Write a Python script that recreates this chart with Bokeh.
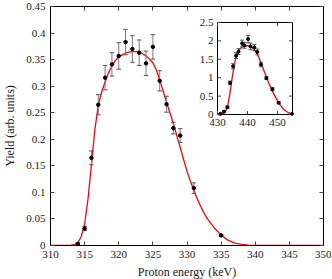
from bokeh.plotting import figure
from bokeh.models import Range1d, LinearAxis, FixedTicker
from bokeh.embed import file_html
from bokeh.resources import INLINE
from bokeh.core.properties import value

# ---------------- data ----------------
x_ticks = [310, 315, 320, 325, 330, 335, 340, 345, 350]
x_tick_labels = ["310", "315", "320", "325", "330", "335", "340", "345", "350"]
y_ticks = [0, 0.05, 0.1, 0.15, 0.2, 0.25, 0.3, 0.35, 0.4, 0.45]
y_tick_labels = ["0", "0.05", "0.1", "0.15", "0.2", "0.25", "0.3", "0.35", "0.4", "0.45"]

energy = [314, 315, 316, 317, 318, 319, 320, 321, 322, 323, 324, 325, 326, 327, 328, 329, 331, 335]
yield_pts = [0.003, 0.032, 0.165, 0.265, 0.316, 0.341, 0.357, 0.383, 0.370, 0.363, 0.343, 0.374,
             0.310, 0.266, 0.221, 0.207, 0.108, 0.019]
yield_err = [0.002, 0.004, 0.013, 0.019, 0.023, 0.022, 0.025, 0.024, 0.025, 0.024, 0.023, 0.023,
             0.019, 0.015, 0.011, 0.013, 0.010, 0.002]

fit_energy = [310, 312, 313, 313.5, 314, 314.5, 315, 315.5, 316, 316.5, 317, 317.5, 318, 318.5,
              319, 319.5, 320, 320.5, 321, 321.5, 322, 322.5, 323, 323.5, 324, 324.5, 325, 325.5,
              326, 326.5, 327, 327.5, 328, 328.5, 329, 329.5, 330, 330.5, 331, 331.5, 332, 332.5,
              333, 334, 335, 336, 337, 338, 339, 340, 342, 350]
fit_yield = [0, 0, 0.0005, 0.0015, 0.005, 0.017, 0.040, 0.088, 0.152, 0.218, 0.264, 0.289, 0.308,
             0.325, 0.338, 0.348, 0.355, 0.359, 0.362, 0.364, 0.365, 0.365, 0.364, 0.361, 0.357,
             0.351, 0.344, 0.331, 0.312, 0.291, 0.270, 0.250, 0.230, 0.207, 0.185, 0.162, 0.140,
             0.121, 0.104, 0.088, 0.074, 0.061, 0.050, 0.033, 0.020, 0.010, 0.0045, 0.002, 0.0007,
             0.0002, 0, 0]

inset_x_limits = [430, 455]
inset_y_limits = [0, 2.5]
inset_x_ticks = [430, 440, 450]
inset_x_tick_labels = ["430", "440", "450"]
inset_y_ticks = [0, 0.5, 1, 1.5, 2, 2.5]
inset_y_tick_labels = ["0", "0.5", "1", "1.5", "2", "2.5"]

inset_energy = [431.0, 432.2, 433.3, 434.2, 435.2, 436.2, 437.0, 438.2, 439.0, 440.2, 441.0,
                442.3, 443.3, 444.5, 446.3, 448.3, 450.4, 454.8]
inset_yield = [0.02, 0.08, 0.20, 0.86, 1.31, 1.60, 1.71, 1.93, 1.88, 2.05, 1.85, 1.82, 1.70,
               1.36, 0.99, 0.69, 0.32, 0.02]
inset_err = [0.01, 0.02, 0.03, 0.05, 0.07, 0.08, 0.08, 0.09, 0.08, 0.10, 0.09, 0.08, 0.08,
             0.06, 0.04, 0.04, 0.03, 0.01]

inset_fit_energy = [430, 431, 431.5, 432, 432.5, 433, 433.5, 434, 434.5, 435, 435.5, 436, 436.5,
                    437, 437.5, 438, 439, 440, 441, 442, 443, 444, 445, 446, 447, 448, 449, 450,
                    451, 452, 453, 454, 455]
inset_fit_yield = [0, 0, 0.01, 0.03, 0.07, 0.14, 0.28, 0.50, 0.78, 1.06, 1.31, 1.50, 1.63, 1.72,
                   1.78, 1.82, 1.86, 1.87, 1.85, 1.79, 1.68, 1.51, 1.30, 1.08, 0.87, 0.69, 0.52,
                   0.37, 0.25, 0.15, 0.08, 0.03, 0.01]

# ---------------- layout / style ----------------
FONT = "Liberation Serif, serif"
FS = "11px"
FS_LABEL = "12px"
FW, FH = 273, 239
INSET_L, INSET_R, INSET_T, INSET_B = 167, 242, 16, 108   # pixels inside the frame
TICK_PX = 3.5
RED = "#ff0000"
BAR = "#7a7a7a"
TXT = "#1a1a1a"

p = figure(frame_width=FW, frame_height=FH, x_range=Range1d(310, 350), y_range=Range1d(0, 0.45),
           output_backend="svg", toolbar_location=None,
           min_border_left=50, min_border_right=8, min_border_top=6, min_border_bottom=33)
p.outline_line_color = "black"
p.xgrid.grid_line_color = None
p.ygrid.grid_line_color = None
p.background_fill_color = "white"
p.border_fill_color = "white"

p.xaxis.ticker = FixedTicker(ticks=x_ticks)
p.xaxis.major_label_overrides = dict(zip(x_ticks, x_tick_labels))
p.yaxis.ticker = FixedTicker(ticks=y_ticks)
p.yaxis.major_label_overrides = dict(zip(y_ticks, y_tick_labels))
p.xaxis.axis_label = "Proton energy (keV)"
p.yaxis.axis_label = "Yield (arb. units)"

for ax in [p.xaxis[0], p.yaxis[0]]:
    ax.major_tick_in = 4
    ax.major_tick_out = 0
    ax.minor_tick_line_color = None
    ax.axis_line_color = "black"
    ax.major_tick_line_color = "#444444"
    ax.major_label_text_font = FONT
    ax.major_label_text_font_size = FS
    ax.major_label_text_color = TXT
    ax.major_label_standoff = 5
    ax.axis_label_text_font = FONT
    ax.axis_label_text_font_size = FS_LABEL
    ax.axis_label_text_font_style = "normal"
    ax.axis_label_text_color = TXT
p.xaxis[0].axis_label_standoff = 4
p.yaxis[0].axis_label_standoff = 6

top_ax = LinearAxis(ticker=FixedTicker(ticks=x_ticks),
                    major_label_overrides={t: "" for t in x_ticks},
                    major_label_text_font_size="0px", major_label_standoff=0,
                    major_tick_in=4, major_tick_out=0, minor_tick_line_color=None,
                    major_tick_line_color="#444444", axis_line_color="black")
p.add_layout(top_ax, "above")
right_ax = LinearAxis(ticker=FixedTicker(ticks=y_ticks),
                      major_label_overrides={t: "" for t in y_ticks},
                      major_label_text_font_size="0px", major_label_standoff=0,
                      major_tick_in=4, major_tick_out=0, minor_tick_line_color=None,
                      major_tick_line_color="#444444", axis_line_color="black")
p.add_layout(right_ax, "right")

# ---------------- main data ----------------
p.line(fit_energy, fit_yield, line_color=RED, line_width=1.3)
lo = [y - e for y, e in zip(yield_pts, yield_err)]
hi = [y + e for y, e in zip(yield_pts, yield_err)]
p.segment(x0=energy, y0=lo, x1=energy, y1=hi, line_color=BAR, line_width=1)
p.scatter(energy, lo, marker="dash", size=4.5, line_color="#555555", line_width=1)
p.scatter(energy, hi, marker="dash", size=4.5, line_color="#555555", line_width=1)
p.scatter(energy, yield_pts, marker="circle", size=3.5, fill_color="black", line_color="black")

# ---------------- inset (extra ranges on the same frame) ----------------
ix_scale = (inset_x_limits[1] - inset_x_limits[0]) / (INSET_R - INSET_L)
ix0 = inset_x_limits[0] - INSET_L * ix_scale
iy_scale = (inset_y_limits[1] - inset_y_limits[0]) / (INSET_B - INSET_T)
iy0 = inset_y_limits[0] - (FH - INSET_B) * iy_scale
p.extra_x_ranges = {"ix": Range1d(ix0, ix0 + FW * ix_scale)}
p.extra_y_ranges = {"iy": Range1d(iy0, iy0 + FH * iy_scale)}
R = dict(x_range_name="ix", y_range_name="iy")

p.quad(left=[inset_x_limits[0]], right=[inset_x_limits[1]],
       bottom=[inset_y_limits[0]], top=[inset_y_limits[1]],
       fill_color="white", line_color="black", line_width=1, **R)

tx = TICK_PX * ix_scale
ty = TICK_PX * iy_scale
nx, ny = len(inset_x_ticks), len(inset_y_ticks)
yb, yt = inset_y_limits
xl, xr = inset_x_limits
p.segment(x0=inset_x_ticks, y0=[yb] * nx, x1=inset_x_ticks, y1=[yb + ty] * nx,
          line_color="#444444", **R)
p.segment(x0=inset_x_ticks, y0=[yt] * nx, x1=inset_x_ticks, y1=[yt - ty] * nx,
          line_color="#444444", **R)
p.segment(x0=[xl] * ny, y0=inset_y_ticks, x1=[xl + tx] * ny, y1=inset_y_ticks,
          line_color="#444444", **R)
p.segment(x0=[xr] * ny, y0=inset_y_ticks, x1=[xr - tx] * ny, y1=inset_y_ticks,
          line_color="#444444", **R)

p.text(x=inset_x_ticks, y=[yb] * nx, text=inset_x_tick_labels, text_align="center",
       text_baseline="top", y_offset=4, text_font=value(FONT), text_font_size=FS,
       text_color=TXT, **R)
p.text(x=[xl] * ny, y=inset_y_ticks, text=inset_y_tick_labels, text_align="right",
       text_baseline="middle", x_offset=-4, text_font=value(FONT), text_font_size=FS,
       text_color=TXT, **R)

p.line(inset_fit_energy, inset_fit_yield, line_color=RED, line_width=1.3, **R)
ilo = [y - e for y, e in zip(inset_yield, inset_err)]
ihi = [y + e for y, e in zip(inset_yield, inset_err)]
p.segment(x0=inset_energy, y0=ilo, x1=inset_energy, y1=ihi, line_color="#555555", line_width=1, **R)
p.scatter(inset_energy, ilo, marker="dash", size=4, line_color="#555555", **R)
p.scatter(inset_energy, ihi, marker="dash", size=4, line_color="#555555", **R)
p.scatter(inset_energy, inset_yield, marker="circle", size=3, fill_color="black",
          line_color="black", **R)

open("out.html", "w").write(file_html(p, INLINE))
